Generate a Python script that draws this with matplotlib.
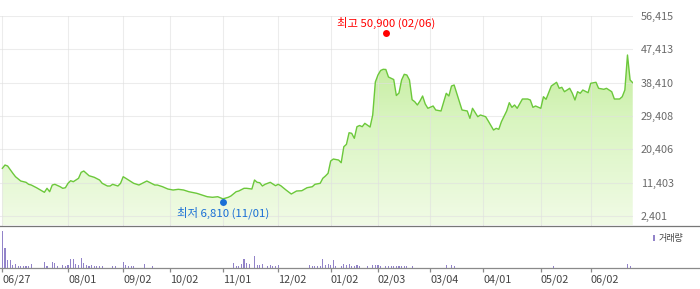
import numpy as np
import matplotlib
matplotlib.use('Agg')
import matplotlib.pyplot as plt
from matplotlib.colors import LinearSegmentedColormap
from matplotlib.lines import Line2D
from matplotlib.patches import Rectangle
import matplotlib.transforms as mtransforms

plt.rcParams['font.family'] = ['Noto Sans CJK KR', 'DejaVu Sans']

# ---- data (x = trading-day index from 06/27) ----
price_day = [0, 1, 2, 4, 5, 7, 9, 10, 11, 13, 15, 16, 17, 18, 19, 20, 22, 23, 24, 25,
             26, 27, 29, 30, 31, 32, 33, 35, 37, 38, 40, 41, 42, 44, 45, 46, 47, 49, 50, 52,
             54, 55, 56, 58, 59, 61, 63, 65, 67, 69, 71, 73, 74, 76, 78, 80, 82, 84, 86, 87,
             89, 90, 92, 93, 95, 96, 97, 98, 99, 100, 102, 104, 105, 106, 108, 110, 112, 114, 116, 118,
             119, 121, 122, 123, 124, 125, 126, 128, 129, 130, 131, 132, 133, 134, 135, 136, 137, 138, 140, 141,
             142, 143, 144, 145, 146, 147, 149, 150, 151, 152, 153, 154, 155, 156, 157, 158, 159, 160, 161, 162,
             164, 165, 167, 169, 170, 171, 172, 173, 175, 177, 178, 179, 181, 182, 184, 185, 187, 188, 189, 190,
             192, 193, 194, 195, 196, 198, 200, 201, 202, 203, 205, 206, 207, 209, 211, 212, 213, 214, 216, 217,
             218, 219, 220, 221, 223, 224, 226, 227, 229, 230, 232, 233, 235, 236, 237, 238, 239, 240]
price = [15280, 16170, 15900, 13930, 13010, 11850, 11500, 10960, 10770, 10040, 9230, 8800, 9880, 8960, 10770, 10960, 10310, 9880, 10040, 11230,
         11930, 11660, 12580, 14200, 14550, 13930, 13280, 12850, 12120, 11230, 10500, 10500, 10960, 10500, 11230, 13010, 12580, 11660, 11230, 10770,
         11500, 11850, 11500, 10770, 10770, 10310, 9690, 9420, 9610, 9420, 8960, 8690, 8530, 8070, 7610, 7450, 7610, 7030, 7450, 7800,
         8960, 9150, 9880, 9880, 9690, 12120, 11500, 11390, 10500, 10960, 11500, 10580, 10960, 10580, 9420, 8340, 9150, 9230, 10040, 10310,
         10960, 11230, 12580, 13200, 13930, 17250, 17790, 17520, 16790, 21110, 21760, 24890, 24730, 23380, 26520, 26840, 26520, 27430, 26430, 29680,
         38590, 40480, 41700, 42020, 41970, 39940, 39260, 34940, 35620, 39130, 40670, 40480, 39130, 33810, 33270, 32380, 33460, 34810, 32650, 31490,
         32110, 31030, 30760, 35540, 34810, 37510, 37780, 35540, 31030, 30760, 28780, 31490, 29220, 29680, 29220, 28050, 25620, 26080, 25810, 27870,
         30760, 33000, 31750, 32380, 31490, 34000, 34000, 33730, 31750, 32110, 31490, 34620, 33920, 37510, 38510, 36890, 37160, 35970, 36890, 35540,
         33730, 35970, 35540, 36430, 35700, 38240, 38510, 36890, 36620, 36890, 35970, 34000, 34000, 34620, 36430, 45880, 39130, 38400]

vol_day = [0, 1, 2, 3, 4, 5, 6, 7, 8, 9, 10, 11, 16, 17, 19, 20, 21, 23, 24, 25,
           26, 27, 28, 29, 30, 31, 32, 33, 34, 35, 36, 37, 38, 42, 43, 46, 47, 48, 49, 50,
           54, 57, 88, 89, 90, 91, 92, 93, 94, 96, 97, 98, 99, 101, 102, 103, 104, 105, 117, 118,
           119, 120, 121, 122, 123, 124, 125, 126, 127, 129, 130, 131, 132, 133, 134, 135, 136, 139, 141, 142,
           143, 144, 146, 147, 148, 149, 150, 151, 152, 153, 154, 156, 169, 171, 172, 210, 238, 239]
volume = [1452, 788, 308, 308, 92, 148, 68, 68, 68, 68, 68, 148, 228, 68, 228, 172, 68, 92, 68, 92,
          348, 348, 148, 92, 388, 188, 92, 68, 92, 68, 68, 68, 68, 68, 68, 228, 92, 68, 68, 68,
          148, 68, 188, 68, 68, 148, 348, 188, 148, 452, 92, 92, 148, 68, 92, 68, 68, 92, 92, 68,
          68, 68, 68, 348, 92, 148, 92, 308, 68, 68, 148, 92, 148, 68, 68, 92, 68, 68, 92, 92,
          92, 68, 68, 68, 68, 68, 68, 68, 68, 68, 68, 68, 92, 92, 68, 68, 148, 68]

tick_day = [0, 25, 46, 64, 84, 105, 125, 143, 163, 183, 205, 224]
tick_labels = ['06/27', '08/01', '09/02', '10/02', '11/01', '12/02', '01/02',
               '02/03', '03/04', '04/01', '05/02', '06/02']
y_ticks = [2401, 11403, 20406, 29408, 38410, 47413, 56415]

high_day, high_value, high_label = 146, 50900, '최고 50,900 (02/06)'
low_day, low_value, low_label = 84, 6810, '최저 6,810 (11/01)'
legend_label = '거래량'

# ---- figure ----
W, H = 700, 289
fig = plt.figure(figsize=(W / 100, H / 100), dpi=100)


def px_axes(l, t, r, b):
    return fig.add_axes([l / W, 1 - b / H, (r - l) / W, (b - t) / H])


ax = px_axes(0, 15.5, 633, 225.5)
axv = px_axes(0, 225.5, 633, 267.7)

xlim = (-0.9, 240.1)
ylim = (-165, 56550)

# gradient area
poly = ax.fill_between(price_day, price, ylim[0], facecolor='none', edgecolor='none')
cmap = LinearSegmentedColormap.from_list('g', ['#f1fbe6', '#d9f5c0', '#b6e787'])
grad = np.linspace(0, 1, 256).reshape(-1, 1)
im = ax.imshow(grad, extent=[xlim[0], xlim[1], ylim[0], ylim[1]], origin='lower',
               aspect='auto', cmap=cmap, zorder=1, interpolation='bilinear')
im.set_clip_path(poly.get_paths()[0], transform=ax.transData)
ax.plot(price_day, price, color='#6cc83b', lw=1.0, zorder=3, solid_joinstyle='round')

ax.set_xlim(xlim)
ax.set_ylim(ylim)
ax.set_xticks(tick_day)
ax.set_yticks(y_ticks)
ax.set_yticklabels([f'{v:,}' for v in y_ticks])
ax.grid(True, color='#e0e0e0', lw=0.75, alpha=0.6)
ax.set_axisbelow('line')
ax.yaxis.tick_right()
ax.tick_params(axis='y', length=0, pad=5.5, labelsize=7.8, labelcolor='#6a6a6a')
ax.tick_params(axis='x', length=0, labelbottom=False)
for s in ax.spines.values():
    s.set_visible(False)

# high / low markers
off_up = mtransforms.offset_copy(ax.transData, fig=fig, x=0, y=3, units='dots')
off_dn = mtransforms.offset_copy(ax.transData, fig=fig, x=0, y=-2, units='dots')
ax.plot([high_day], [high_value], 'o', color='#ff0000', ms=5, mew=0, transform=off_up,
        zorder=5, clip_on=False)
ax.plot([low_day], [low_value], 'o', color='#1a6fd6', ms=5, mew=0, transform=off_dn,
        zorder=5, clip_on=False)
ax.annotate(high_label, (high_day, high_value), xytext=(0, 10), textcoords='offset points',
            ha='center', va='center', color='#ff0000', fontsize=8.2, annotation_clip=False)
ax.annotate(low_label, (low_day, low_value), xytext=(0, -9.1), textcoords='offset points',
            ha='center', va='center', color='#1a6fd6', fontsize=8.2, annotation_clip=False)

# volume
axv.bar(vol_day, volume, width=0.42, color='#9283c9', linewidth=0)
axv.set_xlim(xlim)
axv.set_ylim(0, 1688)
axv.set_yticks([])
axv.set_xticks(tick_day)
axv.set_xticklabels(tick_labels, ha='left')
axv.tick_params(axis='x', length=2.9, width=0.9, color='#8a8a8a', pad=2,
                labelsize=7.8, labelcolor='#444444')
for s in axv.spines.values():
    s.set_visible(False)

# separator lines across full width
for ypx, col in [(225.5, '#777777'), (267.7, '#8a8a8a')]:
    fig.add_artist(Line2D([0, 1], [1 - ypx / H] * 2, transform=fig.transFigure,
                          color=col, lw=0.9))

# volume legend
fig.add_artist(Rectangle((652.7 / W, 1 - 241.3 / H), 2.4 / W, 6.6 / H,
                         transform=fig.transFigure, color='#9283c9', lw=0))
fig.text(658.3 / W, 1 - 238 / H, legend_label, ha='left', va='center', fontsize=6.5,
         color='#444444')

fig.savefig('out.png', dpi=100)
